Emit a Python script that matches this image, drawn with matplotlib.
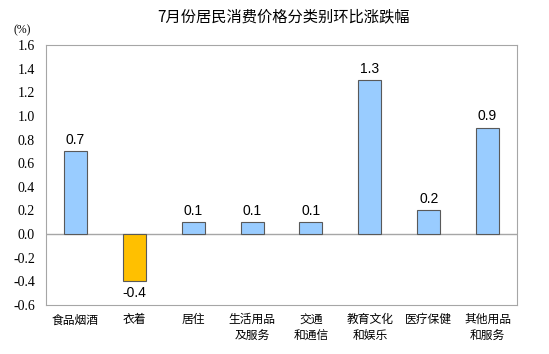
import matplotlib.pyplot as plt
import numpy as np

plt.rcParams['font.family'] = ['Noto Sans CJK SC', 'DejaVu Sans']

categories = ['食品烟酒', '衣着', '居住', '生活用品\n及服务', '交通\n和通信',
              '教育文化\n和娱乐', '医疗保健', '其他用品\n和服务']
values = [0.7, -0.4, 0.1, 0.1, 0.1, 1.3, 0.2, 0.9]
yticks = [-0.6, -0.4, -0.2, 0.0, 0.2, 0.4, 0.6, 0.8, 1.0, 1.2, 1.4, 1.6]

fig = plt.figure(figsize=(5.49, 3.54), dpi=100)
ax = fig.add_axes([46 / 549, 1 - 305 / 354, (517 - 46) / 549, (305 - 45) / 354])

x = np.arange(len(categories))
colors = ['#FFC000' if v < 0 else '#99CCFF' for v in values]
ax.bar(x, values, width=0.39, color=colors, edgecolor='#595959', linewidth=0.8, zorder=3)

for xi, v in zip(x, values):
    off = 0.04 if v >= 0 else -0.04
    ax.text(xi, v + off, f'{v:.1f}', ha='center', va='bottom' if v >= 0 else 'top',
            fontsize=10, family='Liberation Sans')

ax.axhline(0, color='#A6A6A6', linewidth=1, zorder=2)
ax.set_xlim(-0.5, len(categories) - 0.5)
ax.set_ylim(-0.6, 1.6)
ax.set_yticks(yticks)
ax.set_yticklabels([f'{t:.1f}' for t in yticks], family='Liberation Serif', fontsize=10)
ax.set_xticks(x)
ax.set_xticklabels(categories, fontsize=8.5, linespacing=1.3)
ax.tick_params(axis='x', length=0, pad=6)
ax.tick_params(axis='y', length=0, pad=8)
for s in ax.spines.values():
    s.set_color('#A6A6A6')

fig.text(283 / 549, 1 - 17 / 354, '7月份居民消费价格分类别环比涨跌幅', ha='center', va='center',
         fontsize=11, fontweight='medium')
fig.text(22 / 549, 1 - 30 / 354, '(%)', ha='center', va='center', fontsize=8.5,
         family='Liberation Serif')

fig.savefig('out.png', dpi=100)
